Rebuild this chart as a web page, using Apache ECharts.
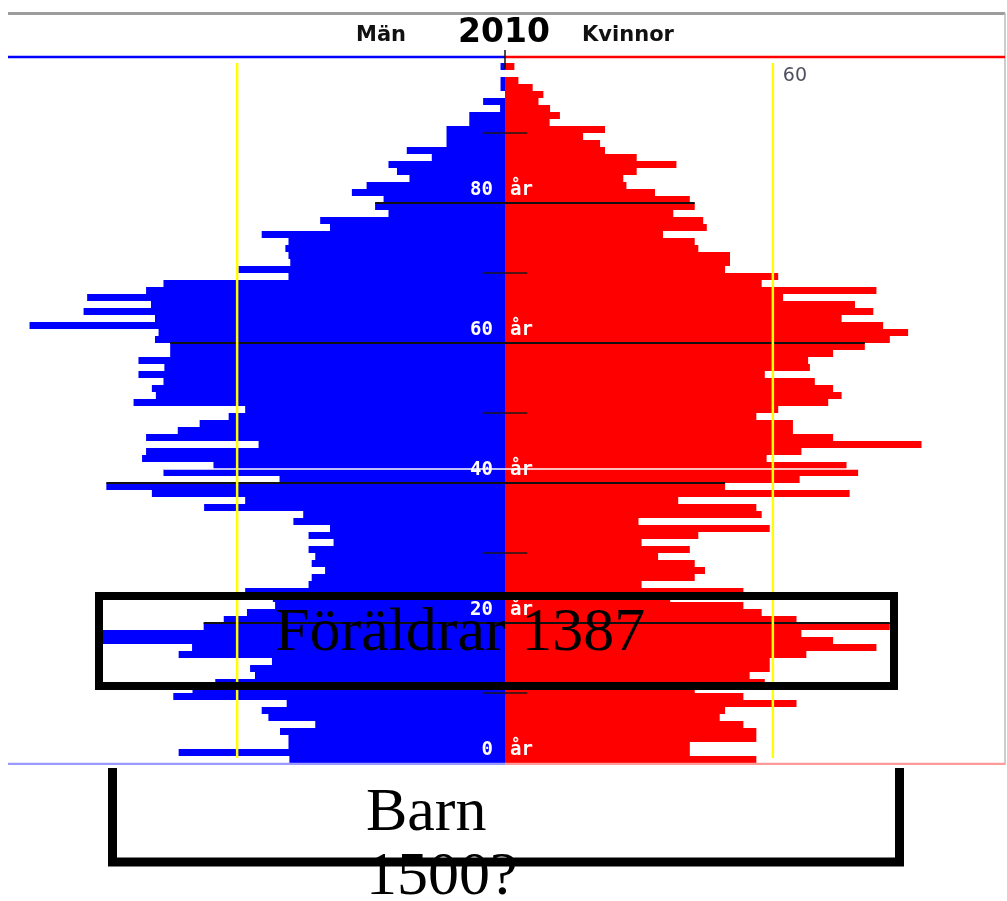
<!DOCTYPE html>
<html><head><meta charset="utf-8">
<script src="https://cdn.jsdelivr.net/npm/echarts@6/dist/echarts.min.js"></script>
<style>html,body{margin:0;padding:0;background:#fff;}#c{width:1007px;height:901px;}</style>
</head><body><div id="c"></div>
<script>
// Age categories 0..100 (one bar per year of age)
const ages = Array.from({length: 101}, (_, i) => String(i));

// Män (men), per age 0..100
const men = [
  48.3, 73.1, 48.5, 48.5, 50.4, 42.5, 53, 54.5, 48.9, 74.3,
  70, 64.9, 56, 57.1, 52.2, 73.1, 70.1, 91, 91, 67.5,
  63, 57.8, 51.5, 52, 58.2, 44, 43.3, 40.3, 43.3, 42.5,
  44, 38.4, 44, 39.2, 47.4, 45.2, 67.4, 58.2, 79.1, 89.3,
  50.5, 76.5, 65.3, 81.3, 80.4, 55.2, 80.4, 73.3, 68.4, 61.9,
  58.2, 83.2, 78.2, 79.1, 76.5, 82.1, 76.3, 82.1, 75, 75,
  78.4, 77.6, 106.5, 78.4, 94.4, 79.3, 93.6, 80.4, 76.5, 48.5,
  59.7, 48.1, 48.5, 49.2, 48.5, 54.5, 39.2, 41.4, 26.1, 29.1,
  27.2, 34.3, 31, 21.4, 24.2, 26.1, 16.4, 22, 13.1, 13.1,
  13.1, 8, 8, 1.1, 4.9, 0, 1, 1, 0, 1,
  0
];

// Kvinnor (women), per age 0..100
const women = [
  56.3, 41.4, 41.4, 56.3, 56.3, 53.4, 48.1, 49.3, 65.3, 53.4,
  42.5, 58.2, 54.8, 59.3, 59.3, 67.5, 83.2, 73.5, 66.4, 86.2,
  65.3, 57.5, 53.4, 37, 53.4, 30.6, 42.5, 44.8, 42.5, 34.3,
  41.4, 30.6, 43.3, 59.3, 29.9, 57.5, 56.3, 38.8, 77.2, 49.3,
  66, 79.1, 76.5, 58.6, 66.4, 93.3, 73.5, 64.5, 64.5, 56.3,
  61.2, 72.4, 75.4, 73.5, 69.4, 58.2, 68.3, 67.9, 73.5, 80.6,
  86.2, 90.3, 84.7, 75.4, 82.5, 78.4, 62.3, 83.2, 57.5, 61.2,
  49.3, 50.4, 50.4, 43.3, 42.5, 35.4, 45.2, 44.4, 37.7, 42.5,
  41.4, 33.6, 27.2, 26.5, 29.5, 38.4, 29.5, 22.4, 21.3, 17.5,
  22.4, 10, 12.3, 10.1, 7.5, 8.6, 6.2, 3, 0, 2.1,
  0
];

const yearLabel = '2010';
const menLabel = 'Män';
const womenLabel = 'Kvinnor';
const majorAges = [0, 20, 40, 60, 80];
const lineAges = [20, 40, 60, 80];
const minorAges = [10, 30, 50, 70, 90];
const refValue = 60;
const ageUnit = 'år';
const parentsText = 'Föräldrar 1387';
const childrenText = 'Barn\n1500?';
const xMax = 112;

const chart = echarts.init(document.getElementById('c'), null, {renderer: 'canvas'});
chart.setOption({
  animation: false,
  backgroundColor: '#ffffff',
  grid: {left: 5, width: 1000, top: 56, height: 707},
  xAxis: {type: 'value', min: -xMax, max: xMax, show: false},
  yAxis: {type: 'category', data: ages, show: false},
  series: [
    {type: 'bar', name: menLabel, data: men.map(v => -v), barGap: '-100%', barCategoryGap: 0,
     itemStyle: {color: '#0000ff'}, silent: true},
    {type: 'bar', name: womenLabel, data: women, barCategoryGap: 0,
     itemStyle: {color: '#ff0000'}, silent: true}
  ]
});

const px = v => chart.convertToPixel({xAxisIndex: 0}, v);
const cy = a => chart.convertToPixel({yAxisIndex: 0}, a);
const step = Math.abs(cy(0) - cy(1));
const yb = a => cy(a) + step / 2;          // boundary under row a
const x0 = px(0);

const els = [];
function line(x1, y1, x2, y2, color, w, z) {
  els.push({type: 'line', z: z || 10, silent: true,
    shape: {x1, y1, x2, y2}, style: {stroke: color, lineWidth: w}});
}
function text(x, y, str, font, color, align, valign, z, extra) {
  els.push({type: 'text', x, y, z: z || 20, silent: true,
    style: Object.assign({text: str, font, fill: color, align, verticalAlign: valign,
      textAlign: align, textVerticalAlign: valign}, extra || {})});
}

// header frame
line(8, 13.5, 1005, 13.5, '#9c9c9c', 3, 5);
line(1005, 13, 1005, 765, '#bdbdbd', 1.5, 5);

// top and bottom axis lines
const yTop = yb(100) - step + 1;
line(px(-xMax) + 3, yTop, x0, yTop, '#0000ff', 2.5, 12);
line(x0, yTop, px(xMax), yTop, '#ff0000', 2.5, 12);
line(px(-xMax) + 3, yb(0) + 0.8, x0, yb(0) + 0.8, '#9a9aff', 2.2, 12);
line(x0, yb(0) + 0.8, px(xMax), yb(0) + 0.8, '#ff9a9a', 2.2, 12);
line(x0, yTop - 7, x0, yTop + 12, '#111111', 1.5, 13);

// short ticks every other decade
minorAges.forEach(a => line(px(-5), yb(a), px(5), yb(a), '#1a1a1a', 1.5, 11));
// long lines at 20,40,60,80 spanning the bar just below
lineAges.forEach(a => line(px(-men[a - 1]), yb(a), px(women[a - 1]), yb(a), '#111111', 2, 11));
// white line across the 41-year bar
line(px(-men[41]), yb(42), px(women[41]), yb(42), '#ffffff', 1.5, 11);

// yellow reference lines at 60
[-refValue, refValue].forEach(v => line(px(v), yb(100), px(v), yb(0) - 5, '#ffff00', 2.5, 14));
text(px(refValue) + 10, 76, String(refValue), '19px "DejaVu Sans"', '#505060', 'left', 'middle', 15);

// header texts
text(381, 36, menLabel, 'bold 21px "DejaVu Sans"', '#111111', 'center', 'middle', 20);
text(504, 33, yearLabel, 'bold 33px "DejaVu Sans"', '#000000', 'center', 'middle', 20);
text(628, 36, womenLabel, 'bold 21px "DejaVu Sans"', '#111111', 'center', 'middle', 20);

// age labels
majorAges.forEach(a => {
  const y = yb(a) - 13;
  text(x0 - 12, y, String(a), 'bold 19px "DejaVu Sans Mono"', '#ffffff', 'right', 'middle', 16);
  text(x0 + 5, y, ageUnit, 'bold 19px "DejaVu Sans Mono"', '#ffffff', 'left', 'middle', 16);
});

// annotation box
els.push({type: 'rect', z: 30, silent: true, shape: {x: 99, y: 596, width: 795, height: 90},
  style: {fill: null, stroke: '#000000', lineWidth: 8}});
text(275, 634, parentsText, '62px "Liberation Serif"', '#000000', 'left', 'middle', 31);

// bracket for children
els.push({type: 'polyline', z: 30, silent: true,
  shape: {points: [[112.5, 768], [112.5, 862], [899.5, 862], [899.5, 768]]},
  style: {fill: null, stroke: '#000000', lineWidth: 9, lineJoin: 'miter'}});
text(366, 782, childrenText, '62px "Liberation Serif"', '#000000', 'left', 'top', 29, {lineHeight: 64});

chart.setOption({graphic: {elements: els}});
</script>
</body></html>
